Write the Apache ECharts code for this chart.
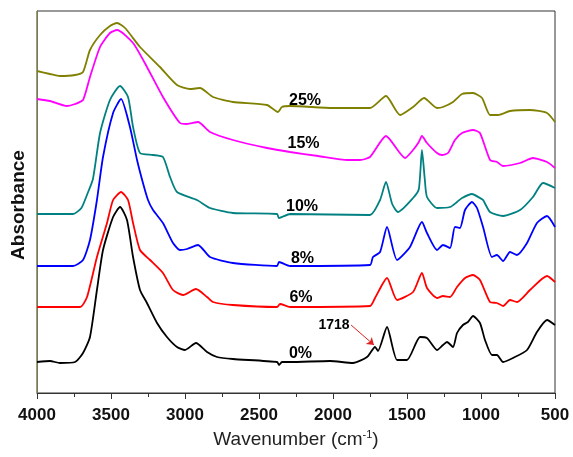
<!DOCTYPE html>
<html>
<head>
<meta charset="utf-8">
<script src="https://cdn.jsdelivr.net/npm/echarts@6/dist/echarts.min.js"></script>
<style>html,body{margin:0;padding:0;background:#fff}#c{width:573px;height:457px}</style>
</head>
<body>
<div id="c"></div>
<script>
// Wavenumber (cm-1) / absorbance (arbitrary, offset) for each sample
const wn0 = [4000,3912,3845,3743,3689,3642,3595,3554,3486,3439,3392,3351,3304,3257,3189,3122,3054,3000,2926,2851,2784,2676,2378,2365,2345,2290,2020,1865,1770,1716,1696,1635,1567,1500,1412,1365,1297,1257,1230,1189,1162,1122,1088,1054,1007,973,926,892,851,784,689,622,554,500];
const ab0 = [32,33,31,32,41,57,104,144,177,187,174,137,104,91,71,57,47,44,51,42,37,35,32,29,32,32,33,31,37,47,43,67,34,34,57,56,44,49,52,47,61,69,72,78,71,54,39,39,32,36,44,62,74,69];

const wn6 = [4000,3709,3662,3595,3527,3486,3432,3385,3351,3304,3236,3149,3081,3013,2926,2851,2811,2676,2378,2358,2290,1750,1716,1635,1567,1459,1399,1365,1297,1257,1209,1162,1108,1054,1007,939,892,851,804,757,669,554,500];
const ab6 = [87,87,97,137,171,194,202,194,171,144,134,121,104,99,105,97,92,89,87,90,87,88,96,116,94,102,121,106,96,98,97,107,116,119,114,92,91,88,94,92,104,118,112];

const wn8 = [4000,3757,3689,3642,3595,3554,3486,3432,3372,3324,3284,3250,3216,3149,3081,3034,2986,2912,2831,2676,2378,2365,2290,1750,1730,1682,1635,1567,1480,1399,1365,1297,1257,1209,1176,1142,1108,1061,1027,986,926,892,851,804,757,689,622,554,500];
const ab8 = [128,128,134,154,194,237,281,295,267,234,211,194,184,171,151,144,145,149,137,131,128,132,128,129,137,142,167,134,147,172,161,144,149,146,167,166,184,192,186,167,137,139,133,142,139,151,171,178,167];

const wn10 = [4000,3757,3700,3660,3622,3574,3507,3439,3385,3351,3304,3216,3149,3101,3054,2919,2831,2676,2378,2365,2290,1750,1682,1642,1600,1561,1459,1420,1399,1380,1365,1297,1209,1162,1128,1061,1007,986,939,851,736,649,581,500];
const ab10 = [180,180,186,200,215,261,294,308,297,267,241,239,237,217,202,194,186,181,180,176,180,179,194,212,190,182,196,205,244,215,197,186,187,192,196,200,196,194,182,178,184,197,211,206];

const wn15 = [4000,3912,3797,3743,3689,3642,3574,3507,3459,3351,3257,3149,3034,2986,2912,2831,2676,2446,2290,2100,1900,1817,1750,1642,1513,1459,1420,1399,1365,1297,1263,1223,1176,1128,1054,1007,939,892,851,736,649,554,500];
const ab15 = [295,293,288,290,294,317,347,361,364,351,327,297,271,270,272,262,254,246,242,238,234,234,237,258,236,244,252,258,251,241,239,241,254,261,264,261,234,232,228,231,236,232,226];

const wn25 = [4000,3912,3845,3743,3689,3642,3574,3507,3459,3405,3304,3169,3054,2966,2899,2811,2676,2446,2372,2345,2290,2000,1750,1642,1547,1459,1385,1297,1257,1189,1128,1054,993,939,885,804,669,554,500];
const ab25 = [323,320,318,319,322,344,359,368,371,366,347,327,309,305,306,297,292,289,282,287,288,286,286,298,279,287,296,286,287,292,300,301,296,279,279,283,284,281,272];

const seriesNames = ['0%','6%','8%','10%','15%','25%'];
const seriesColors = ['#000000','#ff0000','#0000ff','#008080','#ff00ff','#808000'];
const seriesWn = [wn0, wn6, wn8, wn10, wn15, wn25];
const seriesAb = [ab0, ab6, ab8, ab10, ab15, ab25];

// label anchor positions (wavenumber, absorbance)
const labelWn = [2220,2216,2206,2209,2199,2189];
const labelAb = [40,96,135,187,250,293];

const annText = '1718';
const annWn = 1993, annAb = 69;
const arrowFrom = [1878, 69], arrowTo = [1723, 49];

const xTicks = [4000,3500,3000,2500,2000,1500,1000,500];

const FONT = 'Liberation Sans, Arial, sans-serif';
const chart = echarts.init(document.getElementById('c'), null, {renderer:'canvas'});

const series = seriesNames.map((n, i) => ({
  name: n,
  type: 'line',
  showSymbol: false,
  smooth: 0.2,
  data: seriesWn[i].map((w, j) => [w, seriesAb[i][j]]),
  lineStyle: {color: seriesColors[i], width: 1.8},
  itemStyle: {color: seriesColors[i]},
  z: 2 + i
}));

series.push({
  type: 'lines',
  coordinateSystem: 'cartesian2d',
  symbol: ['none', 'arrow'],
  symbolSize: 7,
  lineStyle: {color: '#e02020', width: 1, opacity: 1},
  data: [{coords: [arrowFrom, arrowTo]}],
  z: 20
});

chart.setOption({
  animation: false,
  backgroundColor: '#fff',
  grid: {left: 37, right: 18, top: 11, bottom: 64, show: true, borderColor: '#333', borderWidth: 1},
  xAxis: {
    type: 'value',
    inverse: true,
    min: 500, max: 4000, interval: 500,
    axisLine: {show: true, lineStyle: {color: '#333', width: 1}},
    axisTick: {show: true, inside: false, length: 6, lineStyle: {color: '#333'}},
    minorTick: {show: true, splitNumber: 2, length: 4, lineStyle: {color: '#333'}},
    splitLine: {show: false},
    axisLabel: {
      color: '#111', fontFamily: FONT, fontWeight: 'bold', fontSize: 17, margin: 14,
      formatter: v => xTicks.includes(v) ? String(v) : ''
    },
    name: 'Wavenumber (cm{sup|-1})',
    nameLocation: 'middle',
    nameGap: 36,
    nameTextStyle: {
      color: '#222', fontFamily: FONT, fontSize: 19,
      rich: {sup: {fontSize: 11, color: '#222', fontFamily: FONT, padding: [0, 0, 10, 0]}}
    }
  },
  yAxis: {
    type: 'value',
    min: 1, max: 383,
    axisLine: {show: true, lineStyle: {color: '#7d7d3a', width: 1}},
    axisTick: {show: false},
    axisLabel: {show: false},
    splitLine: {show: false},
    name: 'Absorbance',
    nameLocation: 'middle',
    nameGap: 9,
    nameTextStyle: {color: '#111', fontFamily: FONT, fontWeight: 'bold', fontSize: 19, padding: [0, 6, 0, 0]}
  },
  series: series
});

const texts = seriesNames.map((n, i) => ({t: n, w: labelWn[i], a: labelAb[i], size: 16}))
  .concat([{t: annText, w: annWn, a: annAb, size: 14}]);
chart.setOption({
  graphic: texts.map(o => {
    const p = chart.convertToPixel({gridIndex: 0}, [o.w, o.a]);
    return {
      type: 'text', x: p[0], y: p[1], z: 100,
      style: {text: o.t, fill: '#000', font: 'bold ' + o.size + 'px ' + FONT,
              align: 'center', verticalAlign: 'middle', textAlign: 'center', textVerticalAlign: 'middle'}
    };
  })
});
</script>
</body>
</html>
